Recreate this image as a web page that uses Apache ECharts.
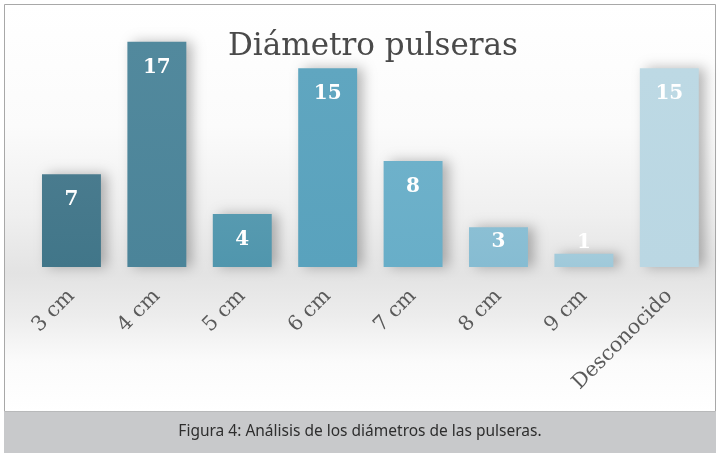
<!DOCTYPE html>
<html>
<head>
<meta charset="utf-8">
<script src="https://cdn.jsdelivr.net/npm/echarts@6/dist/echarts.min.js"></script>
<style>html,body{margin:0;padding:0;background:#fff}#c{width:720px;height:453px}</style>
</head>
<body>
<div id="c"></div>
<script>
var categories = ['3 cm', '4 cm', '5 cm', '6 cm', '7 cm', '8 cm', '9 cm', 'Desconocido'];
var values = [7, 17, 4, 15, 8, 3, 1, 15];
var barColors = ['#417689', '#4b8499', '#5096ad', '#59a2bd', '#68aec8', '#86bcd2', '#9fc9da', '#bad7e3'];
var titleText = 'Diámetro pulseras';
var captionText = 'Figura 4: Análisis de los diámetros de las pulseras.';

var chart = echarts.init(document.getElementById('c'), null, {renderer: 'canvas'});

function lighten(hex, amt) {
  var n = parseInt(hex.slice(1), 16);
  var r = (n >> 16) & 255, g = (n >> 8) & 255, b = n & 255;
  r = Math.round(r + (255 - r) * amt); g = Math.round(g + (255 - g) * amt); b = Math.round(b + (255 - b) * amt);
  return 'rgb(' + r + ',' + g + ',' + b + ')';
}

var data = values.map(function (v, i) {
  var item = {
    value: v,
    itemStyle: {
      color: new echarts.graphic.LinearGradient(0, 0, 0, 1, [
        {offset: 0, color: lighten(barColors[i], 0.04)},
        {offset: 1, color: barColors[i]}
      ])
    }
  };
  if (v <= 1) {
    item.label = {position: 'top', distance: 1};
  } else if (v <= 3) {
    item.label = {position: 'insideTop', distance: 5};
  }
  return item;
});

chart.setOption({
  animation: false,
  backgroundColor: '#ffffff',
  graphic: [
    {
      type: 'rect', z: -10, silent: true,
      shape: {x: 4.5, y: 4.5, width: 711, height: 407},
      style: {
        fill: new echarts.graphic.LinearGradient(0, 0, 0, 1, [
          {offset: 0, color: '#ffffff'},
          {offset: 0.3, color: '#fbfbfb'},
          {offset: 0.52, color: '#efefef'},
          {offset: 0.66, color: '#e3e3e3'},
          {offset: 0.76, color: '#ececec'},
          {offset: 0.88, color: '#fbfbfb'},
          {offset: 1, color: '#ffffff'}
        ]),
        stroke: '#a8a8a8', lineWidth: 1
      }
    },
    {
      type: 'rect', z: -9, silent: true,
      shape: {x: 4, y: 411.5, width: 712, height: 42},
      style: {fill: '#c8c9cb'}
    },
    {
      type: 'text', z: 10, silent: true,
      left: 'center', top: 424,
      style: {text: captionText, font: '15.5px "Noto Sans"', fill: '#2e2e2e'}
    }
  ],
  title: {
    text: titleText,
    left: 368, textAlign: 'center', top: 26,
    textStyle: {fontFamily: 'DejaVu Serif', fontWeight: 'normal', fontSize: 31, color: '#4a4a4a'}
  },
  grid: {left: 28.75, right: 8, top: 28.5, bottom: 186, containLabel: false},
  xAxis: {
    type: 'category',
    data: categories,
    axisLine: {show: false},
    axisTick: {show: false},
    axisLabel: {
      rotate: 45, margin: 26, interval: 0,
      fontFamily: 'DejaVu Serif', fontSize: 20.5, color: '#5a5a5a'
    }
  },
  yAxis: {
    type: 'value', min: 0, max: 18, show: false,
    splitLine: {show: false}
  },
  series: [{
    type: 'bar',
    data: data,
    barWidth: '69%',
    itemStyle: {
      shadowColor: 'rgba(0,0,0,0.28)', shadowBlur: 12, shadowOffsetX: 6, shadowOffsetY: 0
    },
    label: {
      show: true, position: 'insideTop', distance: 16,
      fontFamily: 'DejaVu Serif', fontWeight: 'bold', fontSize: 20, color: '#ffffff'
    }
  }]
});
</script>
</body>
</html>
